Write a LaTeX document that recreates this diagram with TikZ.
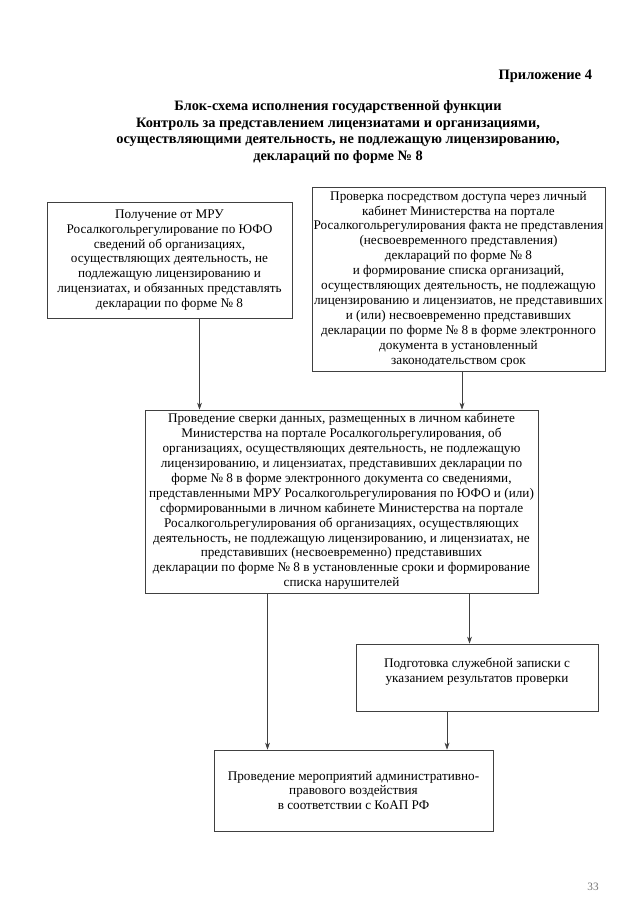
\documentclass[tikz,border=0pt]{standalone}
\usepackage{fontspec}
\setmainfont{Liberation Serif}
\usetikzlibrary{arrows.meta}
\newlength\pxu
\setlength\pxu{0.025cm}

\begin{document}
\begin{tikzpicture}[x=\pxu,y=-\pxu,
  box/.style={draw=black!75, line width=0.5pt, align=center, inner sep=1pt,
    font=\fontsize{9.4}{10.6}\selectfont},
  arr/.style={draw=black!75, line width=0.5pt, -{Stealth[length=5pt,width=3.5pt]}}]
\useasboundingbox (0,0) rectangle (640,905);

\node[anchor=base east, font=\fontsize{10.3}{12}\bfseries\selectfont] (appx) at (597,80) {Приложение 4};
\node[align=center, font=\fontsize{10.2}{12}\bfseries\selectfont] (title) at (338,132)
  {Блок-схема исполнения государственной функции\\
   Контроль за представлением лицензиатами и организациями,\\
   осуществляющими деятельность, не подлежащую лицензированию,\\
   деклараций по форме № 8};

\node[box, minimum width=245\pxu, minimum height=116\pxu] (rcpt) at (169.5,260)
  {Получение от МРУ\\
   Росалкогольрегулирование по ЮФО\\
   сведений об организациях,\\
   осуществляющих деятельность, не\\
   подлежащую лицензированию и\\
   лицензиатах,  и обязанных представлять\\
   декларации по форме № 8};
\node[box, minimum width=277\pxu, minimum height=184\pxu] (check) at (458.5,279)
  {Проверка посредством доступа через личный\\
   кабинет Министерства на портале\\
   Росалкогольрегулирования факта не представления\\
   (несвоевременного представления)\\
   деклараций по форме № 8\\
   и формирование списка  организаций,\\
   осуществляющих деятельность, не подлежащую\\
   лицензированию и лицензиатов, не представивших\\
   и (или) несвоевременно представивших\\
   декларации по форме № 8 в форме электронного\\
   документа в установленный\\
   законодательством срок};
\node[box, minimum width=393\pxu, minimum height=183\pxu] (verify) at (341.5,501.5)
  {Проведение сверки данных, размещенных в личном кабинете\\
   Министерства на портале Росалкогольрегулирования, об\\
   организациях, осуществляющих деятельность, не подлежащую\\
   лицензированию, и лицензиатах, представивших декларации по\\
   форме № 8 в форме электронного документа со сведениями,\\
   представленными МРУ Росалкогольрегулирования по ЮФО и (или)\\
   сформированными в личном кабинете Министерства на портале\\
   Росалкогольрегулирования  об организациях, осуществляющих\\
   деятельность, не подлежащую лицензированию, и лицензиатах,  не\\
   представивших (несвоевременно) представивших\\
   декларации по форме № 8 в установленные сроки и формирование\\
   списка нарушителей};
\node[box, minimum width=242\pxu, minimum height=67\pxu] (memo) at (477,677.5)
  {Подготовка служебной записки с\\
   указанием результатов проверки\\ ~};
\node[box, minimum width=279\pxu, minimum height=81\pxu] (sanct) at (353.5,790.5)
  {Проведение мероприятий административно-\\
   правового воздействия\\
   в соответствии с КоАП РФ};

\coordinate (a1) at ([xshift=30\pxu]rcpt.south);
\coordinate (a2) at ([xshift=3.5\pxu]check.south);
\coordinate (a3) at ([xshift=-74\pxu]verify.south);
\coordinate (a4) at ([xshift=128\pxu]verify.south);
\coordinate (a5) at ([xshift=-30\pxu]memo.south);
\draw[arr] (a1) -- (a1 |- verify.north);
\draw[arr] (a2) -- (a2 |- verify.north);
\draw[arr] (a3) -- (a3 |- sanct.north);
\draw[arr] (a4) -- (a4 |- memo.north);
\draw[arr] (a5) -- (a5 |- sanct.north);

\node[text=black!55, font=\fontsize{8}{9}\selectfont] (pgno) at (593,887) {33};
\end{tikzpicture}
\end{document}
